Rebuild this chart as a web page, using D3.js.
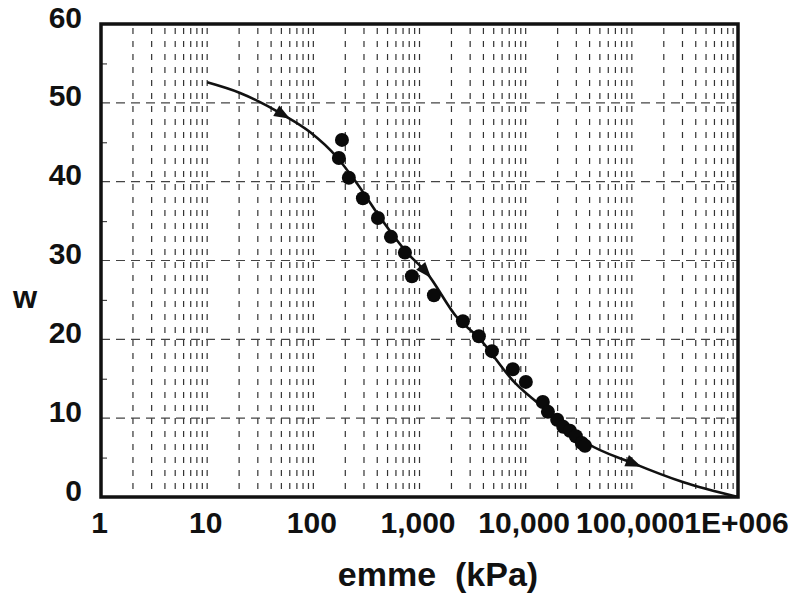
<!DOCTYPE html>
<html>
<head>
<meta charset="utf-8">
<script src="https://cdn.jsdelivr.net/npm/d3@7"></script>
<style>
  body { margin: 0; background: #fff; }
  text { font-family: "Liberation Sans", Arial, sans-serif; font-weight: bold; fill: #111; }
</style>
</head>
<body>
<div id="chart"></div>
<script>
// measured points (emme in kPa, w)
var pointX = [186, 174, 216, 293, 406, 538, 729, 848, 1367, 2563, 3625, 4810, 7570, 10040,
              14500, 16200, 19800, 22600, 26100, 29700, 33800, 36200];
var pointW = [45.3, 43.0, 40.5, 37.9, 35.4, 33.0, 31.0, 28.0, 25.6, 22.3, 20.4, 18.5, 16.2, 14.6,
              12.05, 10.8, 9.8, 8.9, 8.4, 7.7, 6.85, 6.5];

// fitted curve
var curveX = [10, 20.4, 51.7, 93, 167, 257, 424, 761, 1175, 2250, 3550, 7900, 16900, 37700, 102000, 302000, 1000000];
var curveW = [52.6, 51.25, 48.5, 46.3, 43.1, 39.8, 35.5, 31.0, 28.4, 22.8, 20.3, 14.5, 10.7, 6.85, 4.3, 1.9, 0];

// arrows along the curve (at these emme values)
var arrowX = [52, 1150, 105000];

// axis ticks
var xTicks = [1, 10, 100, 1000, 10000, 100000, 1000000];
var xTickLabels = ["1", "10", "100", "1,000", "10,000", "100,000", "1E+006"];
var yTicks = [0, 10, 20, 30, 40, 50, 60];
var yMinorTicks = [5, 15, 25, 35, 45, 55];

var W = 797, H = 593;
var margin = {top: 24, right: 59, bottom: 96, left: 101};
var width = W - margin.left - margin.right;
var height = H - margin.top - margin.bottom;

var svg = d3.select("#chart").append("svg")
  .attr("width", W)
  .attr("height", H);

var g = svg.append("g")
  .attr("transform", "translate(" + margin.left + "," + margin.top + ")");

var x = d3.scaleLog().domain([1, 1e6]).range([0, width]);
var y = d3.scaleLinear().domain([0, 60]).range([height, 0]);

// vertical grid: 1..9 in every decade
var vGrid = [];
for (var dec = 0; dec < 6; dec++) {
  for (var k = 2; k <= 10; k++) vGrid.push(k * Math.pow(10, dec));
}
vGrid = vGrid.filter(function(v) { return v < 1e6; });

g.append("g").selectAll("line")
  .data(vGrid)
  .enter().append("line")
  .attr("x1", function(d) { return x(d); })
  .attr("x2", function(d) { return x(d); })
  .attr("y1", 4)
  .attr("y2", height - 3)
  .attr("stroke", "#333")
  .attr("stroke-width", 1.2)
  .attr("stroke-dasharray", "6,7");

// horizontal grid
g.append("g").selectAll("line")
  .data(yTicks.filter(function(d) { return d > 0 && d < 60; }))
  .enter().append("line")
  .attr("x1", 0)
  .attr("x2", width)
  .attr("y1", function(d) { return y(d); })
  .attr("y2", function(d) { return y(d); })
  .attr("stroke", "#444")
  .attr("stroke-width", 1.2)
  .attr("stroke-dasharray", "9,6");

// minor ticks on left axis, inside
g.append("g")
  .call(d3.axisRight(y).tickValues(yMinorTicks).tickSize(6).tickFormat(""))
  .call(function(s) { s.select(".domain").remove(); })
  .selectAll("line").attr("stroke", "#444").attr("stroke-width", 1.2);

// y axis labels
g.append("g")
  .call(d3.axisLeft(y).tickValues(yTicks).tickSize(0).tickPadding(19))
  .call(function(s) { s.select(".domain").remove(); })
  .selectAll("text")
  .attr("dy", "0.1em")
  .style("font-size", "30px")
  .style("font-family", "'Liberation Sans', Arial, sans-serif")
  .style("font-weight", "bold")
  .attr("fill", "#111");

// x axis labels
g.append("g")
  .attr("transform", "translate(0," + height + ")")
  .call(d3.axisBottom(x).tickValues(xTicks).tickSize(0).tickPadding(15)
    .tickFormat(function(d, i) { return xTickLabels[i]; }))
  .call(function(s) { s.select(".domain").remove(); })
  .selectAll("text")
  .attr("dx", "-2px")
  .style("font-size", "30px")
  .style("font-family", "'Liberation Sans', Arial, sans-serif")
  .style("font-weight", "bold")
  .attr("fill", "#111");

// curve
var curveData = curveX.map(function(v, i) { return {x: v, w: curveW[i]}; });
var line = d3.line()
  .x(function(d) { return x(d.x); })
  .y(function(d) { return y(d.w); })
  .curve(d3.curveMonotoneX);

var path = g.append("path")
  .datum(curveData)
  .attr("d", line)
  .attr("fill", "none")
  .attr("stroke", "#111")
  .attr("stroke-width", 2.6);

// arrowheads: find point on the path at each x value
var node = path.node();
var total = node.getTotalLength();
function lengthAtX(px) {
  var lo = 0, hi = total;
  for (var it = 0; it < 40; it++) {
    var mid = (lo + hi) / 2;
    if (node.getPointAtLength(mid).x < px) lo = mid; else hi = mid;
  }
  return (lo + hi) / 2;
}
arrowX.forEach(function(v) {
  var L = lengthAtX(x(v));
  var p = node.getPointAtLength(L);
  var p2 = node.getPointAtLength(Math.min(total, L + 2));
  var p1 = node.getPointAtLength(Math.max(0, L - 2));
  var ang = Math.atan2(p2.y - p1.y, p2.x - p1.x) * 180 / Math.PI;
  g.append("path")
    .attr("d", "M8,0 L-8,-6 L-8,6 Z")
    .attr("fill", "#111")
    .attr("transform", "translate(" + p.x + "," + p.y + ") rotate(" + ang + ")");
});

// points
g.append("g").selectAll("circle")
  .data(pointX.map(function(v, i) { return {x: v, w: pointW[i]}; }))
  .enter().append("circle")
  .attr("cx", function(d) { return x(d.x); })
  .attr("cy", function(d) { return y(d.w); })
  .attr("r", 7)
  .attr("fill", "#0a0a0a");

// frame
g.append("rect")
  .attr("x", 0).attr("y", 0)
  .attr("width", width).attr("height", height)
  .attr("fill", "none")
  .attr("stroke", "#111")
  .attr("stroke-width", 3.5);

// axis titles
svg.append("text")
  .attr("x", 25).attr("y", 308)
  .attr("text-anchor", "middle")
  .style("font-size", "31px")
  .text("w");

svg.append("text")
  .attr("x", 438).attr("y", 586)
  .attr("text-anchor", "middle")
  .style("font-size", "34px")
  .style("white-space", "pre")
  .text("emme  (kPa)");
</script>
</body>
</html>
